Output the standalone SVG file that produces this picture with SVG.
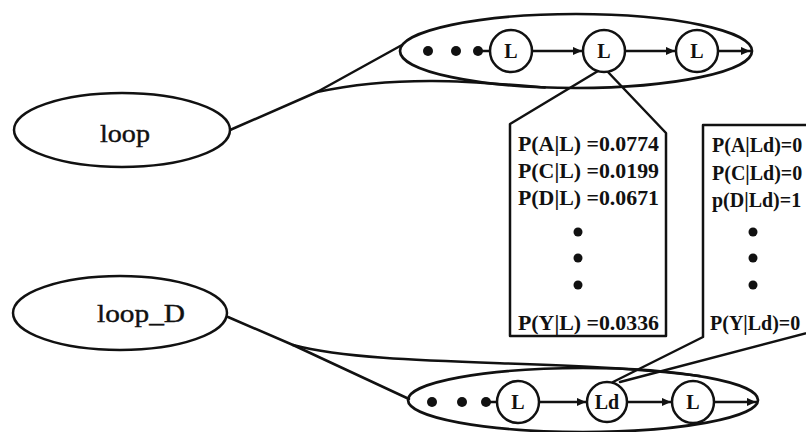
<svg xmlns="http://www.w3.org/2000/svg" width="806" height="432" viewBox="0 0 806 432">
  <defs>
    <style>
      .ln { fill: none; stroke: #111; stroke-width: 2.5; stroke-linejoin: round; stroke-linecap: round; }
      .node { fill: #fff; stroke: #111; stroke-width: 2.5; }
      .grp { fill: none; stroke: #111; stroke-width: 2.7; }
      .dot { fill: #111; }
      .lbl { font-family: "Liberation Serif", "Times New Roman", serif; fill: #111; }
      .big { font-size: 26px; text-anchor: middle; stroke: #111; stroke-width: 0.4; }
      .st { font-size: 20px; font-weight: bold; text-anchor: middle; }
      .prob { font-size: 20px; font-weight: bold; }
    </style>
    <marker id="arr" viewBox="0 0 10 10" refX="10" refY="5" markerWidth="4" markerHeight="3.6" orient="auto" markerUnits="strokeWidth">
      <path d="M0,0.5 L10,5 L0,9.5 z" fill="#111"/>
    </marker>
  </defs>
  <rect width="806" height="432" fill="#fff"/>

  <!-- connectors: expansion lines and probability callouts -->
  <g id="connectors">
    <!-- loop to its expanded chain -->
    <path class="ln" d="M230,130 L317,92 L402,45"/>
    <path class="ln" d="M317,92 C400,74 480,82 545,87.5"/>
    <!-- loop_D to its expanded chain -->
    <path class="ln" d="M228,317 L293,345 L409,399"/>
    <path class="ln" d="M293,345 C380,368 560,358 700,376"/>
    <!-- callout for L -->
    <path class="ln" d="M598,71 L510,124 L510,336 L666,336 L666,133 L607,71"/>
    <!-- callout for Ld -->
    <path class="ln" d="M830,125 L703,125 L703,337 L613,382"/>
    <path class="ln" d="M830,327 L620,382"/>
  </g>

  <!-- top-level nodes -->
  <g id="loop">
    <ellipse class="node" cx="122" cy="130" rx="108" ry="37"/>
    <text class="lbl big" x="125" y="142" textLength="50" lengthAdjust="spacingAndGlyphs">loop</text>
  </g>
  <g id="loop_D">
    <ellipse class="node" cx="120" cy="313" rx="107" ry="37"/>
    <text class="lbl big" x="141" y="322" textLength="88" lengthAdjust="spacingAndGlyphs">loop_D</text>
  </g>

  <!-- expanded chain of loop -->
  <g id="chain-loop">
    <ellipse class="grp" cx="576" cy="51" rx="176" ry="37"/>
    <circle class="dot" cx="428" cy="51" r="5"/>
    <circle class="dot" cx="456" cy="51" r="5"/>
    <circle class="dot" cx="478" cy="51" r="5"/>
    <path class="ln" d="M478,51 L490,51"/>
    <path class="ln" d="M532,51 L582,51" marker-end="url(#arr)"/>
    <path class="ln" d="M625,51 L675,51" marker-end="url(#arr)"/>
    <path class="ln" d="M718,51 L750,51" marker-end="url(#arr)"/>
  </g>
  <g id="L1">
    <circle class="node" cx="511" cy="51" r="21"/>
    <text class="lbl st" x="511" y="58">L</text>
  </g>
  <g id="L2">
    <circle class="node" cx="604" cy="51" r="21"/>
    <text class="lbl st" x="604" y="58">L</text>
  </g>
  <g id="L3">
    <circle class="node" cx="697" cy="51" r="21"/>
    <text class="lbl st" x="697" y="58">L</text>
  </g>

  <!-- expanded chain of loop_D -->
  <g id="chain-loopD">
    <ellipse class="grp" cx="583" cy="400" rx="175" ry="32"/>
    <circle class="dot" cx="432" cy="402" r="5"/>
    <circle class="dot" cx="462" cy="402" r="5"/>
    <circle class="dot" cx="486" cy="402" r="5"/>
    <path class="ln" d="M486,402 L497,402"/>
    <path class="ln" d="M539,402 L586,402" marker-end="url(#arr)"/>
    <path class="ln" d="M628,402 L671,402" marker-end="url(#arr)"/>
    <path class="ln" d="M714,402 L756,402" marker-end="url(#arr)"/>
  </g>
  <g id="DL1">
    <circle class="node" cx="518" cy="402" r="21"/>
    <text class="lbl st" x="518" y="409">L</text>
  </g>
  <g id="Ld">
    <circle class="node" cx="607" cy="402" r="20"/>
    <text class="lbl st" x="607" y="409">Ld</text>
  </g>
  <g id="DL3">
    <circle class="node" cx="693" cy="402" r="21"/>
    <text class="lbl st" x="693" y="409">L</text>
  </g>

  <!-- emission probabilities of L -->
  <g id="probs-L">
    <text class="lbl prob" x="518" y="151" textLength="141" lengthAdjust="spacingAndGlyphs">P(A|L) =0.0774</text>
    <text class="lbl prob" x="518" y="178" textLength="141" lengthAdjust="spacingAndGlyphs">P(C|L) =0.0199</text>
    <text class="lbl prob" x="518" y="205" textLength="141" lengthAdjust="spacingAndGlyphs">P(D|L) =0.0671</text>
    <circle class="dot" cx="578" cy="232" r="4.5"/>
    <circle class="dot" cx="578" cy="258" r="4.5"/>
    <circle class="dot" cx="578" cy="285" r="4.5"/>
    <text class="lbl prob" x="518" y="330" textLength="141" lengthAdjust="spacingAndGlyphs">P(Y|L) =0.0336</text>
  </g>

  <!-- emission probabilities of Ld -->
  <g id="probs-Ld">
    <text class="lbl prob" x="712" y="152">P(A|Ld)=0</text>
    <text class="lbl prob" x="712" y="180">P(C|Ld)=0</text>
    <text class="lbl prob" x="712" y="207">p(D|Ld)=1</text>
    <circle class="dot" cx="753" cy="232" r="4.5"/>
    <circle class="dot" cx="753" cy="258" r="4.5"/>
    <circle class="dot" cx="753" cy="285" r="4.5"/>
    <text class="lbl prob" x="710" y="330">P(Y|Ld)=0</text>
  </g>
</svg>
